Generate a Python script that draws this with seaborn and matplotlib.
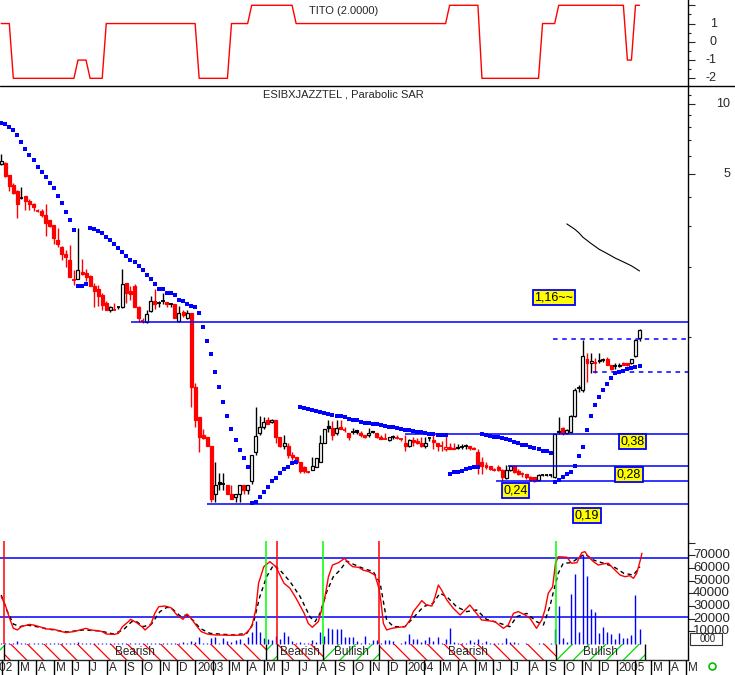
"""
Weekly candlestick chart of ESIBXJAZZTEL with Parabolic SAR,
TITO panel on top and an oscillator / volume panel underneath.
"""

import numpy as np
import seaborn as sns
import matplotlib
matplotlib.use("Agg")
import matplotlib.pyplot as plt
import matplotlib.transforms as mtrans
from matplotlib.lines import Line2D
from matplotlib.patches import Rectangle
from matplotlib.ticker import FixedLocator, NullFormatter
from datetime import datetime

sns.set_style("white")
plt.rcParams['font.family'] = ['Liberation Sans', 'DejaVu Sans']
plt.rcParams['hatch.linewidth'] = 0.9

# ---------------- weekly candles (one per week, index 0 = end Jan 2002) ----------------
opens = [5.55, 5.6, 4.95, 4.5, 4.23, 3.98, 4.03, 3.85, 3.73, 3.51,
         3.47, 3.34, 3.17, 3.02, 2.6, 2.43, 2.27, 2.14, 1.78, 1.78,
         1.9, 1.88, 1.83, 1.66, 1.61, 1.51, 1.4, 1.3, 1.32, 1.34,
         1.34, 1.7, 1.57, 1.66, 1.35, 1.18, 1.16, 1.29, 1.43, 1.39,
         1.41, 1.41, 1.39, 1.38, 1.17, 1.28, 1.2, 1.26, 0.61, 0.45,
         0.38, 0.37, 0.34, 0.21, 0.237, 0.232, 0.23, 0.21, 0.205, 0.21,
         0.23, 0.22, 0.24, 0.32, 0.385, 0.41, 0.44, 0.43, 0.44, 0.37,
         0.34, 0.34, 0.31, 0.305, 0.29, 0.275, 0.265, 0.268, 0.275, 0.29,
         0.35, 0.415, 0.405, 0.385, 0.41, 0.402, 0.385, 0.388, 0.396, 0.386,
         0.378, 0.378, 0.395, 0.384, 0.37, 0.367, 0.36, 0.372, 0.37, 0.366,
         0.35, 0.34, 0.36, 0.358, 0.35, 0.34, 0.365, 0.36, 0.35, 0.342,
         0.33, 0.335, 0.333, 0.332, 0.336, 0.337, 0.338, 0.334, 0.32, 0.29,
         0.28, 0.277, 0.27, 0.275, 0.267, 0.247, 0.268, 0.277, 0.265, 0.258,
         0.256, 0.25, 0.25, 0.242, 0.255, 0.255, 0.255, 0.25, 0.39, 0.405,
         0.386, 0.39, 0.455, 0.595, 0.59, 0.8, 0.77, 0.78, 0.785, 0.795,
         0.805, 0.76, 0.745, 0.75, 0.775, 0.77, 0.77, 0.83, 0.99]
highs = [6.1, 5.65, 4.97, 4.6, 4.3, 4.4, 4.05, 3.9, 3.75, 3.55,
         3.55, 3.73, 3.18, 3.03, 2.93, 2.45, 2.37, 2.48, 1.94, 2.93,
         2.17, 1.95, 1.85, 1.7, 1.67, 1.54, 1.42, 1.36, 1.4, 1.35,
         1.96, 1.7, 1.66, 1.68, 1.36, 1.2, 1.31, 1.5, 1.6, 1.43,
         1.55, 1.41, 1.4, 1.38, 1.36, 1.31, 1.3, 1.27, 0.63, 0.45,
         0.4, 0.37, 0.34, 0.29, 0.26, 0.26, 0.23, 0.23, 0.21, 0.23,
         0.23, 0.23, 0.31, 0.5, 0.455, 0.45, 0.45, 0.445, 0.44, 0.37,
         0.38, 0.35, 0.32, 0.305, 0.29, 0.277, 0.266, 0.305, 0.3, 0.38,
         0.4, 0.44, 0.435, 0.44, 0.44, 0.41, 0.385, 0.405, 0.396, 0.395,
         0.378, 0.405, 0.395, 0.385, 0.38, 0.385, 0.372, 0.38, 0.38, 0.368,
         0.378, 0.365, 0.37, 0.368, 0.37, 0.37, 0.372, 0.378, 0.35, 0.355,
         0.378, 0.35, 0.348, 0.345, 0.345, 0.346, 0.338, 0.335, 0.33, 0.305,
         0.29, 0.278, 0.272, 0.28, 0.27, 0.28, 0.28, 0.28, 0.27, 0.262,
         0.258, 0.252, 0.25, 0.256, 0.258, 0.258, 0.258, 0.385, 0.45, 0.41,
         0.4, 0.46, 0.6, 0.62, 0.97, 0.85, 0.85, 0.81, 0.85, 0.81,
         0.82, 0.76, 0.77, 0.775, 0.78, 0.775, 0.8, 0.98, 1.08]
lows = [5.5, 4.85, 4.25, 4.1, 3.25, 3.9, 3.5, 3.52, 3.48, 3.45,
        3.28, 2.72, 2.98, 2.5, 2.43, 2.15, 2.0, 1.8, 1.67, 1.77,
        1.85, 1.73, 1.65, 1.35, 1.36, 1.3, 1.3, 1.28, 1.3, 1.32,
        1.33, 1.4, 1.44, 1.35, 1.16, 1.15, 1.15, 1.28, 1.32, 1.35,
        1.38, 1.35, 1.35, 1.2, 1.16, 1.22, 1.19, 0.5, 0.41, 0.32,
        0.365, 0.34, 0.195, 0.195, 0.22, 0.22, 0.21, 0.2, 0.195, 0.195,
        0.21, 0.21, 0.232, 0.31, 0.38, 0.4, 0.42, 0.425, 0.35, 0.335,
        0.33, 0.3, 0.295, 0.285, 0.26, 0.26, 0.26, 0.268, 0.275, 0.29,
        0.35, 0.39, 0.36, 0.38, 0.4, 0.39, 0.36, 0.383, 0.383, 0.37,
        0.368, 0.37, 0.385, 0.368, 0.362, 0.362, 0.358, 0.365, 0.364, 0.355,
        0.322, 0.335, 0.34, 0.345, 0.335, 0.333, 0.357, 0.33, 0.323, 0.322,
        0.322, 0.33, 0.328, 0.328, 0.33, 0.33, 0.325, 0.328, 0.258, 0.258,
        0.27, 0.268, 0.265, 0.265, 0.24, 0.245, 0.265, 0.26, 0.255, 0.25,
        0.245, 0.24, 0.237, 0.24, 0.252, 0.252, 0.25, 0.248, 0.383, 0.38,
        0.383, 0.385, 0.45, 0.58, 0.58, 0.64, 0.7, 0.7, 0.77, 0.78,
        0.755, 0.72, 0.73, 0.745, 0.755, 0.75, 0.765, 0.82, 0.96]
closes = [5.7, 4.93, 4.47, 4.17, 3.74, 3.94, 3.82, 3.72, 3.61, 3.49,
          3.33, 3.1, 3.0, 2.65, 2.5, 2.27, 2.2, 1.8, 1.76, 1.93,
          1.87, 1.81, 1.66, 1.57, 1.5, 1.37, 1.31, 1.35, 1.31, 1.34,
          1.68, 1.54, 1.53, 1.35, 1.2, 1.17, 1.25, 1.42, 1.38, 1.4,
          1.42, 1.38, 1.39, 1.21, 1.27, 1.24, 1.27, 0.61, 0.44, 0.37,
          0.368, 0.34, 0.2, 0.23, 0.232, 0.232, 0.21, 0.2, 0.21, 0.23,
          0.22, 0.23, 0.31, 0.375, 0.41, 0.43, 0.42, 0.44, 0.37, 0.34,
          0.35, 0.31, 0.305, 0.29, 0.265, 0.264, 0.263, 0.278, 0.3, 0.35,
          0.4, 0.405, 0.38, 0.405, 0.4, 0.398, 0.37, 0.39, 0.391, 0.378,
          0.37, 0.387, 0.389, 0.37, 0.365, 0.364, 0.372, 0.372, 0.366, 0.362,
          0.338, 0.36, 0.352, 0.35, 0.34, 0.35, 0.367, 0.352, 0.34, 0.338,
          0.336, 0.33, 0.329, 0.336, 0.337, 0.338, 0.333, 0.33, 0.28, 0.279,
          0.275, 0.27, 0.268, 0.267, 0.25, 0.268, 0.277, 0.262, 0.257, 0.256,
          0.25, 0.243, 0.24, 0.255, 0.255, 0.255, 0.255, 0.383, 0.395, 0.386,
          0.396, 0.455, 0.59, 0.6, 0.83, 0.77, 0.79, 0.775, 0.795, 0.797,
          0.76, 0.73, 0.75, 0.76, 0.758, 0.755, 0.8, 0.97, 1.07]

# Parabolic SAR dots, one per week
sar = [8.28, 8.2, 8.01, 7.73, 7.36, 6.87, 6.44, 6.03, 5.74, 5.39,
       5.13, 4.88, 4.57, 4.35, 4.04, 3.75, 3.43, 3.17, 2.87, 1.65,
       1.65, 1.69, 2.93, 2.9, 2.86, 2.79, 2.69, 2.6, 2.51, 2.4,
       2.31, 2.23, 2.15, 2.09, 2.01, 1.93, 1.84, 1.77, 1.68, 1.6,
       1.6, 1.55, 1.54, 1.51, 1.44, 1.42, 1.39, 1.36, 1.34, 1.26,
       1.1, 0.957, 0.84, 0.706, 0.607, 0.523, 0.455, 0.4, 0.359, 0.325,
       0.301, 0.275, 0.193, 0.195, 0.204, 0.216, 0.225, 0.239, 0.246, 0.26,
       0.269, 0.275, 0.286, 0.29, 0.5, 0.493, 0.488, 0.484, 0.478, 0.475,
       0.47, 0.464, 0.46, 0.458, 0.457, 0.451, 0.445, 0.44, 0.438, 0.432,
       0.427, 0.424, 0.423, 0.42, 0.418, 0.414, 0.41, 0.408, 0.405, 0.4,
       0.399, 0.396, 0.392, 0.388, 0.388, 0.386, 0.383, 0.382, 0.38, 0.377,
       0.377, 0.258, 0.261, 0.263, 0.266, 0.27, 0.273, 0.275, 0.276, 0.382,
       0.378, 0.374, 0.37, 0.37, 0.367, 0.365, 0.36, 0.354, 0.349, 0.344,
       0.341, 0.336, 0.334, 0.33, 0.324, 0.322, 0.318, 0.238, 0.242, 0.249,
       0.256, 0.263, 0.279, 0.306, 0.336, 0.396, 0.455, 0.507, 0.553, 0.592,
       0.628, 0.667, 0.7, 0.705, 0.712, 0.73, 0.737, 0.741, 0.748]

# TITO indicator as runs of constant level
tito_levels = [1, -2, -1, -2, 1, -2, 1, 2, 1, 2, -2, 1, 2, -1, 2]
tito_runs = [3, 16, 3, 4, 23, 8, 5, 11, 38, 8, 15, 4, 17, 2, 2]

volume = [600, 800, 500, 900, 2400, 700, 500, 800, 600, 400,
          700, 900, 500, 600, 800, 500, 700, 900, 600, 1200,
          500, 600, 700, 800, 500, 600, 400, 500, 600, 700,
          1100, 800, 600, 700, 500, 600, 700, 800, 600, 500,
          700, 600, 500, 800, 700, 1200, 900, 2000, 1500, 5800,
          1000, 800, 4500, 5800, 800, 4500, 2600, 1800, 3200, 3700,
          800, 5300, 9800, 18400, 9800, 4500, 3700, 3200, 6300, 3700,
          9800, 6300, 2600, 800, 1800, 500, 800, 3200, 1800, 9800,
          6300, 12400, 11600, 11600, 11600, 5300, 5300, 5300, 2600, 1000,
          6300, 800, 3200, 3200, 800, 3200, 3200, 2600, 300, 1000,
          2600, 7600, 4000, 4000, 1800, 3200, 5300, 2600, 5800, 800,
          3700, 12900, 1800, 1000, 1000, 500, 3200, 1800, 4000, 500,
          2100, 1000, 500, 500, 500, 5000, 1800, 1800, 1000, 100,
          500, 300, 300, 500, 1000, 300, 500, 11900, 30000, 5000,
          1300, 39500, 55300, 9800, 70000, 53800, 27700, 25600, 8900, 13700,
          9800, 7900, 4000, 8400, 5000, 5000, 7100, 38700, 11900]

# oscillator (red) and its signal (black dashed), read at week positions, in thousands
osc_x = [0, 1, 2, 3, 4, 5, 7, 8, 10, 11, 13, 15, 16, 18, 19.5, 21, 22, 24, 25, 26,
         28, 29, 30, 31.5, 32, 33.5, 35, 35.6, 37, 38, 39, 40.5, 42, 43.5, 45, 46, 47,
         48.5, 49.5, 51, 53, 54.5, 56.5, 58, 60, 61, 62, 63, 63.7, 65, 66.5, 68, 69,
         70, 71.5, 73, 75, 76, 77, 78.5, 80, 81, 82, 83.5, 85, 86, 87, 88.5, 89.5, 91,
         92.5, 93.5, 94, 94.6, 95.4, 96.7, 98.3, 100, 101.2, 102, 103.3, 104.1, 105.3,
         106.6, 107.4, 108.2, 109, 110.3, 111.9, 113.6, 114.8, 116, 117.3, 118.9,
         120.6, 122.2, 124.3, 125.5, 126.8, 128, 129.7, 130.9, 132.5, 133.8, 134.6,
         135.4, 136.5, 137.2, 137.9, 140, 141.2, 142.5, 143.7, 144.5, 145.3, 146.6,
         147.8, 149, 150.3, 151.5, 153.2, 154.4, 155.6, 156.5, 157.3, 158.1, 158.6]
osc_red = [37.4, 30.8, 21, 12.4, 11.1, 13.7, 15.5, 15, 13.2, 11.9, 11.6, 9.8, 9.0, 9.8,
           11.1, 12.4, 11.1, 10.5, 9.8, 7.9, 7.6, 8.4, 13.7, 17.7, 19.5, 16.9, 13.2, 11.1,
           15.0, 24.2, 29.5, 30.0, 28.7, 22.9, 19.5, 23.7, 20.3, 13.7, 9.8, 7.9, 7.1, 7.1,
           6.9, 6.9, 7.1, 9.8, 13.7, 26.9, 48, 61.1, 65.1, 61.1, 54.5, 48, 44, 36.1, 24.2,
           16.3, 13.2, 17.7, 34.8, 53.2, 62.4, 64.3, 67.7, 63.8, 61.1, 60.6, 58.5, 57.2,
           54.5, 44, 33.5, 16.3, 11.1, 12.4, 13.2, 13.7, 19, 25.6, 30.8, 34.3, 30.8, 30,
           37.4, 46.6, 42.7, 34.8, 28.2, 22.9, 26.9, 30.8, 25.6, 19, 18.4, 17.7, 12.4, 15,
           24.2, 25.6, 22.9, 20.3, 12.4, 19, 26.9, 40.1, 45.3, 63.8, 69, 68.6, 63.8, 64.3,
           72.2, 73, 69, 65.1, 62.4, 63.3, 63.8, 59.8, 54.5, 53.2, 54, 51.9, 55.9, 65.1, 71.7]
sig_line_x = [0, 1.35, 3, 4.65, 6.3, 8.8, 12.1, 16.2, 20.3, 24.5, 27.8, 30.2, 32.3, 33.5,
              35.2, 37.2, 39.3, 41, 42.2, 44.3, 45.9, 47.6, 49.2, 51.7, 57.5, 60.8, 62.4,
              64, 65.7, 67.4, 69, 71.5, 74, 76.5, 77.7, 78.9, 80.6, 82.2, 83.9, 85.5, 87.2,
              89.6, 92.1, 93.8, 95.4, 97.1, 99.9, 101.9, 104.5, 106.9, 108.6, 110.3, 112.7,
              115.2, 117.7, 120.1, 123.5, 125.9, 127.6, 130.1, 132.5, 134.2, 135.8, 136.6,
              137.9, 139.1, 141.2, 143.3, 144.5, 146.6, 149.1, 151.6, 154.1, 156.5, 158.1]
sig_line = [38.7, 26.9, 15.8, 13.7, 15, 13.7, 11.6, 9.5, 11.1, 10.3, 7.9, 11.1, 17.7, 17.7,
            13.7, 15.8, 25.6, 29, 28.2, 22.1, 22.9, 18.4, 12.4, 8.4, 7.1, 8.4, 16.3, 37.4,
            53.2, 62.4, 58.5, 49.3, 37.4, 21.1, 17.7, 24.2, 41.4, 53.2, 58.5, 65.6, 63,
            59.8, 57.2, 48, 19, 13.7, 13.7, 20.3, 29.5, 32.2, 40.1, 37.4, 29.5, 25.6, 26.9,
            19.5, 16.3, 13.7, 21.6, 24.2, 17.7, 15, 29.5, 40.1, 55.9, 63.8, 64.3, 69, 71.1,
            66.4, 63.8, 61.1, 55.9, 54.5, 61.1]

# buy / sell signals on the oscillator panel
signal_x = [0.7, 65.5, 68.3, 79.6, 93.6, 137.3]
signal_kind = ['sell', 'buy', 'sell', 'buy', 'sell', 'buy']
band_end = 159.4
osc_levels = [67700, 21100]

# support / resistance lines and their boxes on the price panel
level_price = [1.16, 0.382, 0.278, 0.24, 0.191]
level_start = [32.1, 100.0, 125.5, 122.5, 50.9]
dash_price = [0.975, 0.706]
dash_start = [136.5, 146.6]
box_text = ['1,16~~', '0,38', '0,28', '0,24', '0,19']
box_x = [136.8, 156.3, 155.4, 127.3, 145.0]
box_y = [1.47, 0.355, 0.257, 0.218, 0.170]

# thin black curve top right
curve_x = list(range(140, 159))
curve_y = [3.06, 2.98, 2.9, 2.8, 2.68, 2.6, 2.52, 2.45, 2.38, 2.33,
           2.28, 2.23, 2.18, 2.14, 2.1, 2.06, 2.02, 1.97, 1.92]

RED, BLUE, GREEN = '#FF0000', '#0000FF', '#00DD00'
W, H = 735, 675
XL = (-0.3, 170.0)
AX_RIGHT = 688


def fy(py):
    return 1 - py / H


def panel(top, bottom):
    ax = fig.add_axes([0, fy(bottom), AX_RIGHT / W, (bottom - top) / H])
    ax.set_xlim(XL)
    ax.set_xticks([])
    for s in ['left', 'top', 'bottom']:
        ax.spines[s].set_visible(False)
    ax.spines['right'].set_color('black')
    ax.spines['right'].set_linewidth(1.0)
    ax.set_facecolor('white')
    return ax


def right_labels(ax, values, labels, px, size):
    tr = mtrans.blended_transform_factory(ax.transAxes, ax.transData)
    for v, lab in zip(values, labels):
        ax.text(px / AX_RIGHT, v, lab, transform=tr, ha='right', va='center',
                fontsize=size, clip_on=False)


def y_ticks(ax, major, minor):
    ax.yaxis.tick_right()
    ax.yaxis.set_major_locator(FixedLocator(major))
    ax.yaxis.set_minor_locator(FixedLocator(minor))
    ax.yaxis.set_major_formatter(NullFormatter())
    ax.yaxis.set_minor_formatter(NullFormatter())
    ax.tick_params(axis='y', which='major', direction='out', length=5, width=0.8,
                   right=True, left=False)
    ax.tick_params(axis='y', which='minor', direction='out', length=2.5, width=0.8,
                   right=True, left=False)


fig = plt.figure(figsize=(W / 100, H / 100), dpi=100)
fig.patch.set_facecolor('white')
idx = np.arange(len(closes))

# ---------------- TITO panel ----------------
ax_t = panel(0, 86)
ax_t.set_ylim(-2.42, 2.29)
tito = np.repeat(tito_levels, tito_runs)
sns.lineplot(x=idx, y=tito, ax=ax_t, color=RED, linewidth=1.0)
y_ticks(ax_t, [-2, -1, 0, 1, 2], [-1.5, -0.5, 0.5, 1.5])
right_labels(ax_t, [1, 0, -1, -2], ['1', '0', '-1', '-2'], 717, 9)
ax_t.set_ylabel('')
fig.text(344 / W, fy(11), 'TITO (2.0000)', ha='center', va='center', fontsize=8)

# ---------------- price panel ----------------
ax_p = panel(86, 541)
ax_p.set_yscale('log')
ax_p.set_ylim(0.1324, 11.99)
y_ticks(ax_p, [5, 10], [1, 2, 3, 4, 6, 7, 8, 9, 11])
right_labels(ax_p, [10, 5], ['10', '5'], 730, 9)

o, h, l, c = map(np.array, (opens, highs, lows, closes))
prev_c = np.r_[c[0], c[:-1]]
cols = np.where(c < prev_c, RED, 'black')
ax_p.vlines(idx, l, h, colors=cols, lw=1.0, zorder=2)
for i in idx:
    lo_b, hi_b = min(o[i], c[i]), max(o[i], c[i])
    if hi_b / lo_b < 1.012:
        ax_p.hlines(c[i], i - 0.45, i + 0.45, colors=cols[i], lw=1.3, zorder=3)
    else:
        face = 'white' if c[i] > o[i] else cols[i]
        ax_p.add_patch(Rectangle((i - 0.37, lo_b), 0.74, hi_b - lo_b, facecolor=face,
                                 edgecolor=cols[i], lw=0.9, zorder=3))

sns.scatterplot(x=idx, y=sar, ax=ax_p, marker='s', s=7, color=BLUE, linewidth=0, zorder=5)
sns.lineplot(x=curve_x, y=curve_y, ax=ax_p, color='black', linewidth=0.8)

for lv, x0 in zip(level_price, level_start):
    ax_p.hlines(lv, x0, XL[1], colors=BLUE, lw=1.1, zorder=4)
for lv, x0 in zip(dash_price, dash_start):
    ax_p.hlines(lv, x0, XL[1], colors=BLUE, lw=1.1, linestyles=(0, (3, 3)), zorder=4)
for t, bx, by in zip(box_text, box_x, box_y):
    ax_p.text(bx, by, t, ha='center', va='center', fontsize=9, color='black', zorder=6,
              bbox=dict(boxstyle='square,pad=0.12', fc='#FFFF00', ec=BLUE, lw=1.3))
ax_p.set_ylabel('')
fig.text(343.5 / W, fy(94.5), 'ESIBXJAZZTEL , Parabolic SAR', ha='center', va='center',
         fontsize=8)

# ---------------- oscillator / volume panel ----------------
ax_i = panel(541, 660)
ylo, yhi = -12650, 81420
ax_i.set_ylim(ylo, yhi)
y_ticks(ax_i, list(range(10000, 80001, 10000)), [])
right_labels(ax_i, list(range(10000, 70001, 10000)),
             [str(v) for v in range(10000, 70001, 10000)], 730, 9.5)

ax_i.vlines(idx, 0, volume, colors=BLUE, lw=1.0, zorder=2)
for lv in osc_levels:
    ax_i.axhline(lv, color=BLUE, lw=1.1, zorder=3)
sns.lineplot(x=sig_line_x, y=np.array(sig_line) * 1000, ax=ax_i, color='black',
             linewidth=1.0, zorder=4)
ax_i.lines[-1].set_dashes([3, 2.5])
sns.lineplot(x=osc_x, y=np.array(osc_red) * 1000, ax=ax_i, color=RED, linewidth=1.0, zorder=5)

for sx, kind in zip(signal_x, signal_kind):
    ax_i.vlines(sx, 0, yhi, colors=RED if kind == 'sell' else '#00FF00', lw=1.1, zorder=6)

# Bearish / Bullish band
edges = [XL[0]] + signal_x + [band_end]
kinds = ['buy'] + signal_kind
for a, b, kind in zip(edges[:-1], edges[1:], kinds):
    bear = kind == 'sell'
    ax_i.fill_between([a, b], ylo, 0, facecolor='white', edgecolor=RED if bear else GREEN,
                      hatch='\\\\' if bear else '//', linewidth=0, zorder=1)
    if b - a > 5:
        ax_i.text((a + b) / 2, ylo / 2 + 300, 'Bearish' if bear else 'Bullish', ha='center',
                  va='center', fontsize=8.5, zorder=7)
ax_i.vlines(signal_x + [band_end], ylo, 0, colors='black', lw=1.0, zorder=6)
ax_i.set_ylabel('')

# ---------------- month strip ----------------
ax_d = panel(660, 675)
ax_d.set_ylim(0, 1)
ax_d.set_yticks([])
ax_d.spines['right'].set_visible(False)
ax_d.spines['top'].set_visible(True)
ax_d.spines['top'].set_linewidth(1.0)
ref = datetime(2002, 1, 30, 4, 48)
yr, mo = 2002, 1
while (yr, mo) <= (2005, 5):
    xm = (datetime(yr, mo, 1) - ref).total_seconds() / 86400 / 7
    ax_d.vlines(xm, 0, 1, colors='black', lw=1.0, zorder=4)
    lab = str(yr) if mo == 1 else ('' if mo == 2 else 'JFMAMJJASOND'[mo - 1])
    ax_d.text(xm + 0.5, 0.45, lab, ha='left', va='center', fontsize=8.5, clip_on=False)
    mo += 1
    if mo > 12:
        yr, mo = yr + 1, 1

# panel separator and small widgets at the bottom right
fig.add_artist(Line2D([0, 1], [fy(86), fy(86)], color='black', lw=1.0,
                      transform=fig.transFigure))
fig.add_artist(Rectangle((690 / W, fy(645)), 32 / W, 12 / H, facecolor='white',
                         edgecolor='#333333', lw=0.8, transform=fig.transFigure, zorder=10))
fig.text(700 / W, fy(639), '000', fontsize=7, ha='left', va='center', zorder=11)
fig.add_artist(Line2D([712 / W], [fy(666)], marker='o', ms=5, mfc='none', mec='#00C000',
                      mew=1.2, transform=fig.transFigure))

plt.savefig('out.png', dpi=100, facecolor='white')
